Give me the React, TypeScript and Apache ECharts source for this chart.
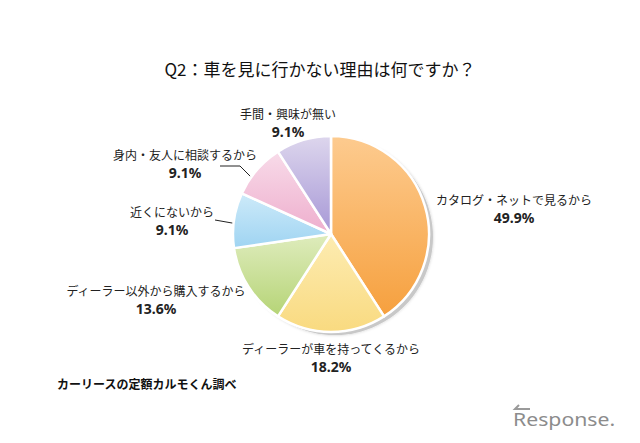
import React, { useEffect, useRef } from "react";
import * as echarts from "echarts";

const TITLE = "Q2：車を見に行かない理由は何ですか？";
const SOURCE = "カーリースの定額カルモくん調べ";
const categories = [
  "カタログ・ネットで見るから",
  "ディーラーが車を持ってくるから",
  "ディーラー以外から購入するから",
  "近くにないから",
  "身内・友人に相談するから",
  "手間・興味が無い",
];
// printed percentages (as shown in the labels)
const printedPct = ["49.9%", "18.2%", "13.6%", "9.1%", "9.1%", "9.1%"];
// slice sizes as actually drawn in the picture
const drawnValues = [40.9, 18.2, 13.6, 9.1, 9.1, 9.1];
const topColors = ["#fdcb8f", "#fdecb2", "#dfecbd", "#cdeaf9", "#f8dbe9", "#ddd6ed"];
const bottomColors = ["#f6a03e", "#f9da80", "#b5d476", "#9fd4f2", "#eeaecd", "#a697d6"];

const CX = 331;
const CY = 234;
const R = 98;

const labelPos: [number, number][] = [
  [514, 208],
  [331, 357],
  [156, 299],
  [172, 220],
  [185, 163],
  [288, 122],
];
const linePts: Record<number, number[][]> = {
  3: [[248, 226], [232, 223], [215, 220]],
  4: [[260, 186], [240, 166], [220, 166]],
};

export default function App() {
  const ref = useRef<HTMLDivElement>(null);
  useEffect(() => {
    if (!ref.current) return;
    const chart = echarts.init(ref.current, null, { renderer: "svg" });
    const data = categories.map((name, i) => ({
      name,
      value: drawnValues[i],
      pct: printedPct[i],
      itemStyle: {
        color: new echarts.graphic.LinearGradient(0, 0, 0, 1, [
          { offset: 0, color: topColors[i] },
          { offset: 1, color: bottomColors[i] },
        ]),
      },
      labelLine: {
        show: i === 3 || i === 4,
        lineStyle: { color: "#222", width: 1 },
      },
    }));
    chart.setOption({
      animation: false,
      backgroundColor: "#ffffff",
      title: {
        text: TITLE,
        left: "center",
        top: 55,
        textStyle: {
          fontSize: 17,
          fontWeight: "normal",
          color: "#111",
          fontFamily: "Noto Sans CJK JP",
        },
      },
      graphic: [
        {
          type: "circle",
          z: 0,
          shape: { cx: CX + 4, cy: CY + 3, r: R },
          style: { fill: "#c8c8c8", shadowBlur: 3, shadowColor: "rgba(0,0,0,0.2)" },
        },
        {
          type: "text",
          x: 57,
          y: 383,
          style: {
            text: SOURCE,
            fontSize: 12,
            fontWeight: 600,
            fill: "#111",
            fontFamily: "Noto Sans CJK JP",
            verticalAlign: "middle",
          },
        },
        {
          type: "polyline",
          shape: { points: [[530, 409], [515, 409], [519, 405]] },
          style: { stroke: "#9a9a9a", lineWidth: 2, fill: "none" },
        },
        {
          type: "text",
          x: 513,
          y: 419,
          scaleX: 1.18,
          style: {
            text: "Response.",
            fontSize: 18,
            fill: "#8c8c8c",
            fontFamily: "Noto Sans",
            verticalAlign: "middle",
          },
        },
      ],
      series: [
        {
          type: "pie",
          z: 2,
          center: [CX, CY],
          radius: R,
          startAngle: 90,
          clockwise: true,
          silent: true,
          itemStyle: { borderColor: "#ffffff", borderWidth: 2.5 },
          label: {
            show: true,
            position: "outside",
            overflow: "none",
            width: 300,
            formatter: (p: any) => `{n|${p.name}}\n{p|${p.data.pct}}`,
            rich: {
              n: {
                fontSize: 12,
                color: "#222",
                lineHeight: 18,
                fontFamily: "Noto Sans CJK JP",
                align: "center",
              },
              p: {
                fontSize: 14,
                fontWeight: "bold",
                color: "#222",
                lineHeight: 18,
                fontFamily: "Noto Sans",
                align: "center",
              },
            },
          },
          labelLine: { show: false },
          labelLayout: (params: any) => {
            const i = params.dataIndex;
            const out: any = {
              x: labelPos[i][0],
              y: labelPos[i][1],
              align: "center",
              verticalAlign: "middle",
            };
            if (linePts[i]) out.labelLinePoints = linePts[i];
            return out;
          },
          data,
        },
      ],
    });
    return () => chart.dispose();
  }, []);
  return (
    <div
      ref={ref}
      style={{ position: "fixed", left: 0, top: 0, width: 640, height: 443 }}
    />
  );
}
